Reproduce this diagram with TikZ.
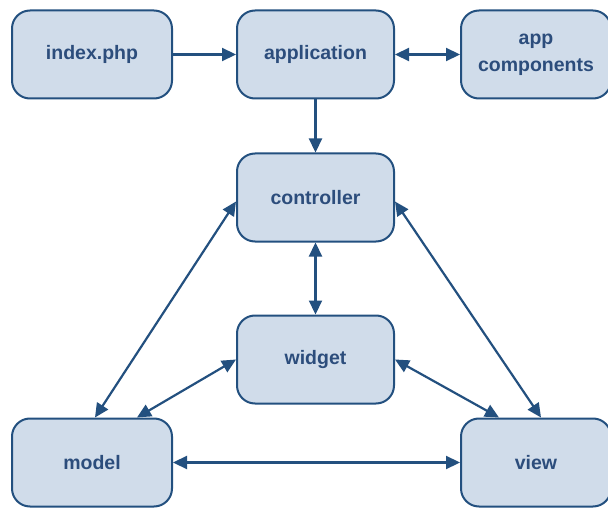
\documentclass[tikz,border=0pt]{standalone}
\usepackage{fontspec}
\setmainfont{Liberation Sans}
\usetikzlibrary{positioning, arrows.meta}
\definecolor{boxfill}{HTML}{D0DCEA}
\definecolor{boxline}{HTML}{23507F}
\definecolor{boxtext}{HTML}{2C4D7C}
\tikzset{
  box/.style={
    draw=boxline, fill=boxfill, rounded corners=18pt, line width=2pt,
    minimum width=157pt, minimum height=88pt, align=center,
    text=boxtext, font=\fontsize{19.5}{27}\selectfont\bfseries
  },
  link/.style={draw=boxline, line width=2.2pt},
  >={Triangle[length=14pt,width=13pt]},
  node distance=63pt
}

\begin{document}
\begin{tikzpicture}
      \useasboundingbox (0,0) rectangle (608pt,-508pt);

      % top row
      \node[box, minimum width=160pt] (index) at (92pt,-54.5pt) {index.php};
      \node[box, right = of index] (application) {application};
      \node[box, minimum width=150pt, right = 65pt of application] (components) {app\\components};

      % middle column
      \node[box, below = 53pt of application] (controller) {controller};
      \node[box, below = 72pt of controller] (widget) {widget};

      % bottom row
      \node[box, minimum width=160pt, below = 318pt of index] (model) {model};
      \node[box, minimum width=150pt, below = 318pt of components] (view) {view};

      \draw[link, ->] (index) -- (application);
      \draw[link, <->] (application) -- (components);
      \draw[link, ->] (application) -- (controller);
      \draw[link, <->] (controller) -- (widget);
      \draw[link, <->] ([yshift=-4pt]controller.west) -- ([xshift=3pt]model.north);
      \draw[link, <->] ([yshift=-4pt]controller.east) -- ([xshift=5pt]view.north);
      \draw[link, <->] (widget.west) -- ([xshift=45pt]model.north);
      \draw[link, <->] (widget.east) -- ([xshift=-37pt]view.north);
      \draw[link, <->] (model) -- (view);
    \end{tikzpicture}
\end{document}
